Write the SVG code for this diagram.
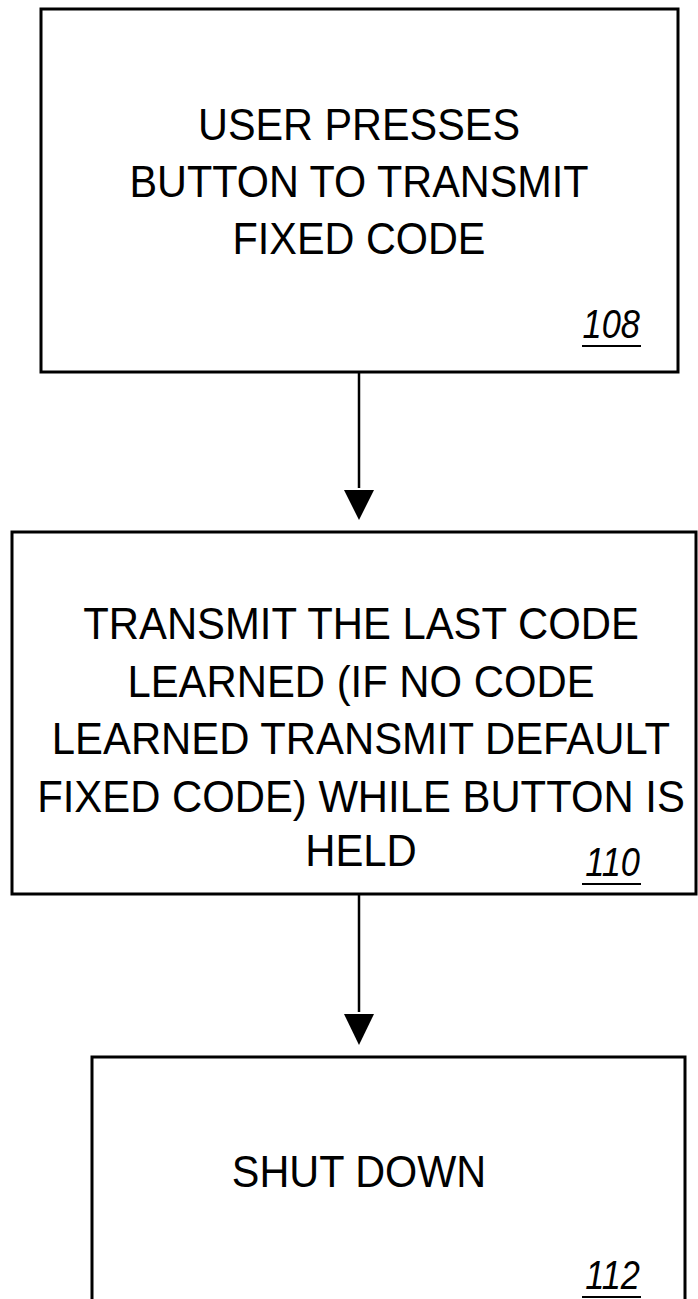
<svg xmlns="http://www.w3.org/2000/svg" width="698" height="1299" viewBox="0 0 698 1299">
<style>
.box{fill:#fff;stroke:#000;stroke-width:3}
.t{font-family:"Liberation Sans",Arial,sans-serif;font-size:45px;fill:#000;text-anchor:middle}
.n{font-family:"Liberation Sans",Arial,sans-serif;font-size:40px;font-style:italic;fill:#000;text-anchor:end}
.u{stroke:#000;stroke-width:2}
.c{stroke:#000;stroke-width:2.5;fill:none}
</style>
<rect width="698" height="1299" fill="#fff"/>
<g id="connectors">
<line class="c" x1="359" y1="372" x2="359" y2="488"/>
<path d="M344,490 L374,490 L359,520 Z" fill="#000"/>
<line class="c" x1="359" y1="894" x2="359" y2="1012"/>
<path d="M344,1014 L374,1014 L359,1045 Z" fill="#000"/>
</g>
<g id="node108">
<rect class="box" x="41" y="9" width="637" height="363"/>
<text class="t" transform="matrix(0.92,0,0,1,359,140)">USER PRESSES</text>
<text class="t" transform="matrix(0.92,0,0,1,359,197)">BUTTON TO TRANSMIT</text>
<text class="t" transform="matrix(0.92,0,0,1,359,254)">FIXED CODE</text>
<text class="n" transform="matrix(0.86,0,0,1,640,338)">108</text>
<line class="u" x1="582" y1="346" x2="641" y2="346"/>
</g>
<g id="node110">
<rect class="box" x="12" y="532" width="684" height="362"/>
<text class="t" transform="matrix(0.93,0,0,1,361,639)">TRANSMIT THE LAST CODE</text>
<text class="t" transform="matrix(0.93,0,0,1,361,697)">LEARNED (IF NO CODE</text>
<text class="t" transform="matrix(0.93,0,0,1,361,754)">LEARNED TRANSMIT DEFAULT</text>
<text class="t" transform="matrix(0.93,0,0,1,361,812)">FIXED CODE) WHILE BUTTON IS</text>
<text class="t" transform="matrix(0.93,0,0,1,361,866)">HELD</text>
<text class="n" transform="matrix(0.86,0,0,1,640,876)">110</text>
<line class="u" x1="582" y1="884" x2="641" y2="884"/>
</g>
<g id="node112">
<path class="box" d="M92,1301 L92,1057 L685,1057 L685,1301"/>
<text class="t" transform="matrix(0.92,0,0,1,359,1187)">SHUT DOWN</text>
<text class="n" transform="matrix(0.86,0,0,1,640,1289)">112</text>
<line class="u" x1="582" y1="1297" x2="641" y2="1297"/>
</g>
</svg>
